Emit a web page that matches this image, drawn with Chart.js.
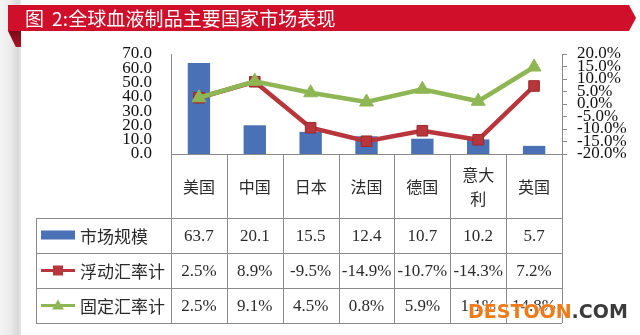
<!DOCTYPE html>
<html>
<head>
<meta charset="utf-8">
<script src="https://cdn.jsdelivr.net/npm/chart.js@4.4.1/dist/chart.umd.min.js"></script>
<style>
  html, body { margin: 0; padding: 0; background: #fff; }
  #wrap { position: relative; width: 640px; height: 335px; overflow: hidden; background: #fff; }
  #strip { position: absolute; left: 0; top: 0; width: 21px; height: 335px;
    background: linear-gradient(to right, #f4f4f4 0px, #ececec 10px, #d9d9d9 18px, #e6e6e6 21px); }
  #banner { position: absolute; left: 8px; top: 5px; width: 628px; height: 26px; background: #d0102a;
    clip-path: polygon(0 0, calc(100% - 7px) 0, 100% 50%, calc(100% - 7px) 100%, 0 100%); }
  #fold { position: absolute; left: 8px; top: 31px; width: 13px; height: 16px;
    background: linear-gradient(to bottom, #7e0a16, #a8142a);
    clip-path: polygon(0 0, 100% 0, 100% 100%, 60% 100%); }
  #title { position: absolute; left: 25px; top: 4px; color: #fff; font-family: "Noto Sans CJK SC", sans-serif;
    font-size: 19px; font-weight: 400; line-height: 28px; white-space: pre; letter-spacing: 0.1px; }
  #title .sp { display: inline-block; width: 8px; }
  #chart { position: absolute; left: 0; top: 0; }
  #wm { position: absolute; left: 468px; top: 299px; font-family: "DejaVu Sans", sans-serif; font-weight: bold;
    font-size: 19px; line-height: 24px; white-space: nowrap; letter-spacing: 0px;
    text-shadow: 0 0 2px #fff, 0 0 2px #fff; }
  #wm .a { color: #f07a16; }
  #wm .b { color: #3b3b3b; }
</style>
</head>
<body>
<div id="wrap">
  <canvas id="chart" width="640" height="335"></canvas>
  <div id="strip"></div>
  <div id="fold"></div>
  <div id="banner"></div>
  <div id="title">图<span class="sp"> </span>2:全球血液制品主要国家市场表现</div>
  <div id="wm"><span class="a">DESTOON</span><span class="b">.COM</span></div>
</div>
<script>
const categories = ['美国', '中国', '日本', '法国', '德国', '意大利', '英国'];
const marketSize = [63.7, 20.1, 15.5, 12.4, 10.7, 10.2, 5.7];
const floatingRate = [2.5, 8.9, -9.5, -14.9, -10.7, -14.3, 7.2];
const fixedRate = [2.5, 9.1, 4.5, 0.8, 5.9, 1.1, 14.8];
const seriesNames = ['市场规模', '浮动汇率计', '固定汇率计'];
const leftTicks = [0, 10, 20, 30, 40, 50, 60, 70];
const rightTicks = [-20, -15, -10, -5, 0, 5, 10, 15, 20];

const BLUE = '#4a70b5';
const RED = '#b8353b';
const RED_DARK = '#9a2a2e';
const GREEN = '#8fb654';
const GRID = '#8a8a8a';
const SERIF = '"Liberation Serif", "Times New Roman", serif';
const CJK = '"Noto Sans CJK SC", sans-serif';

const tablePlugin = {
  id: 'dataTable',
  afterDraw(chart) {
    const ctx = chart.ctx;
    const xs = chart.scales.x;
    const n = categories.length;
    const colW = (xs.right - xs.left) / n;
    const top = chart.chartArea.bottom;
    const rowTops = [top, top + 64, top + 99, top + 134, top + 169];
    const legendLeft = 36;
    ctx.save();
    ctx.strokeStyle = GRID;
    ctx.lineWidth = 1;
    for (let i = 0; i <= n; i++) {
      const x = Math.round(xs.left + i * colW) + 0.5;
      ctx.beginPath(); ctx.moveTo(x, top); ctx.lineTo(x, rowTops[4]); ctx.stroke();
    }
    ctx.beginPath(); ctx.moveTo(legendLeft + 0.5, rowTops[1]); ctx.lineTo(legendLeft + 0.5, rowTops[4]); ctx.stroke();
    for (let r = 1; r <= 4; r++) {
      const y = Math.round(rowTops[r]) + 0.5;
      ctx.beginPath(); ctx.moveTo(legendLeft, y); ctx.lineTo(xs.right, y); ctx.stroke();
    }
    ctx.fillStyle = '#2a2a2a';
    ctx.textAlign = 'center';
    ctx.textBaseline = 'middle';
    ctx.font = '16px ' + CJK;
    categories.forEach((c, i) => {
      const cx = xs.getPixelForValue(i);
      const lines = [];
      for (let k = 0; k < c.length; k += 2) lines.push(c.slice(k, k + 2));
      const midY = (rowTops[0] + rowTops[1]) / 2 + 1;
      const lh = 24;
      lines.forEach((ln, j) => {
        ctx.fillText(ln, cx, midY + (j - (lines.length - 1) / 2) * lh);
      });
    });
    ctx.font = '17px ' + SERIF;
    const rows = [
      marketSize.map(v => v.toFixed(1)),
      floatingRate.map(v => v.toFixed(1) + '%'),
      fixedRate.map(v => v.toFixed(1) + '%')
    ];
    rows.forEach((vals, r) => {
      const cy = (rowTops[r + 1] + rowTops[r + 2]) / 2 + 1;
      vals.forEach((v, i) => ctx.fillText(v, xs.getPixelForValue(i), cy));
    });
    ctx.textAlign = 'left';
    ctx.font = '17px ' + CJK;
    seriesNames.forEach((name, r) => {
      const cy = (rowTops[r + 1] + rowTops[r + 2]) / 2;
      const x0 = 41, x1 = 75, mx = 58;
      if (r === 0) {
        ctx.fillStyle = BLUE;
        ctx.fillRect(x0, cy - 5, x1 - x0, 9);
      } else if (r === 1) {
        ctx.strokeStyle = RED; ctx.lineWidth = 3;
        ctx.beginPath(); ctx.moveTo(x0, cy); ctx.lineTo(x1, cy); ctx.stroke();
        ctx.fillStyle = RED; ctx.fillRect(mx - 5, cy - 5, 10, 10);
      } else {
        ctx.strokeStyle = GREEN; ctx.lineWidth = 3;
        ctx.beginPath(); ctx.moveTo(x0, cy); ctx.lineTo(x1, cy); ctx.stroke();
        ctx.fillStyle = GREEN;
        ctx.beginPath(); ctx.moveTo(mx, cy - 6); ctx.lineTo(mx + 6, cy + 4); ctx.lineTo(mx - 6, cy + 4); ctx.closePath(); ctx.fill();
      }
      ctx.fillStyle = '#2a2a2a';
      ctx.fillText(name, 80, cy + 1);
    });
    ctx.restore();
  }
};

new Chart(document.getElementById('chart'), {
  data: {
    labels: categories,
    datasets: [
      { type: 'bar', label: seriesNames[0], data: marketSize, yAxisID: 'y', backgroundColor: BLUE,
        categoryPercentage: 1.0, barPercentage: 0.4, order: 3 },
      { type: 'line', label: seriesNames[1], data: floatingRate, yAxisID: 'y1', borderColor: RED, borderWidth: 4.5,
        pointStyle: 'rect', pointRadius: 7.5, pointBackgroundColor: RED, pointBorderColor: RED_DARK, pointBorderWidth: 1,
        tension: 0, order: 2 },
      { type: 'line', label: seriesNames[2], data: fixedRate, yAxisID: 'y1', borderColor: GREEN, borderWidth: 4.5,
        pointStyle: 'triangle', pointRadius: 8, pointBackgroundColor: GREEN, pointBorderColor: GREEN, pointBorderWidth: 1,
        tension: 0, order: 1 }
    ]
  },
  options: {
    responsive: false,
    animation: false,
    devicePixelRatio: 1,
    layout: { padding: { top: 54, bottom: 181, left: 0, right: 0 } },
    plugins: { legend: { display: false }, tooltip: { enabled: false }, title: { display: false } },
    scales: {
      x: {
        type: 'category',
        offset: true,
        grid: { display: false, drawTicks: false },
        border: { display: true, color: GRID, width: 1 },
        ticks: { display: false },
        afterFit(s) { s.height = 0; }
      },
      y: {
        position: 'left',
        min: 0, max: 70,
        afterBuildTicks(s) { s.ticks = leftTicks.map(v => ({ value: v })); },
        ticks: { autoSkip: false, padding: 19, color: '#111', font: { family: SERIF, size: 17 },
          callback: v => Number(v).toFixed(1) },
        grid: { display: false, drawTicks: false },
        border: { display: true, color: GRID, width: 1 },
        afterFit(s) { s.width = 171; }
      },
      y1: {
        position: 'right',
        min: -20, max: 20,
        afterBuildTicks(s) { s.ticks = rightTicks.map(v => ({ value: v })); },
        ticks: { autoSkip: false, padding: 10, color: '#111', font: { family: SERIF, size: 17 },
          callback: v => Number(v).toFixed(1) + '%' },
        grid: { display: true, drawOnChartArea: false, drawTicks: true, tickLength: 5, color: GRID },
        border: { display: true, color: GRID, width: 1 },
        afterFit(s) { s.width = 78; }
      }
    }
  },
  plugins: [tablePlugin]
});
</script>
</body>
</html>
